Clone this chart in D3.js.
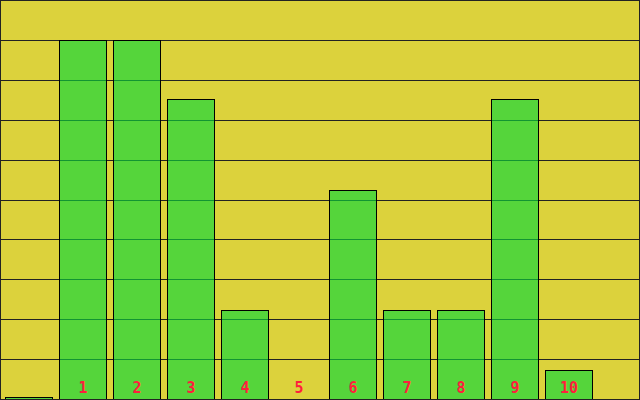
<!DOCTYPE html>
<html>
<head>
<meta charset="utf-8">
<script src="https://cdn.jsdelivr.net/npm/d3@7"></script>
<style>
  body { margin: 0; background: #fff; }
  svg { display: block; }
</style>
</head>
<body>
<svg width="640" height="400"></svg>
<script>
// bar values, one per category index
var categories = [0, 1, 2, 3, 4, 5, 6, 7, 8, 9, 10];
var values = [0.1, 12, 12, 10.03, 3, 0, 7, 3, 3, 10.03, 1];
var labels = ["", "1", "2", "3", "4", "5", "6", "7", "8", "9", "10"];
var gridTicks = [0, 1, 2, 3, 4, 5, 6, 7, 8, 9];

var svg = d3.select("svg"),
    width = +svg.attr("width"),
    height = +svg.attr("height");

// background
svg.append("rect")
    .attr("width", width)
    .attr("height", height)
    .attr("fill", "#dcd23c");

var x = d3.scaleBand()
    .domain(categories)
    .range([5, 592])
    .paddingInner(7 / 54)
    .paddingOuter(0);

var y = d3.scaleLinear()
    .domain([0, 12])
    .range([height, 40]);

// grid lines, ten bands down the plot
var gy = d3.scaleLinear().domain([0, 10]).range([0, 399]);
svg.append("g")
    .selectAll("line")
    .data(gridTicks)
    .enter()
    .append("line")
    .attr("x1", 0)
    .attr("x2", width)
    .attr("y1", function (d) { return Math.round(gy(d)) + 0.5; })
    .attr("y2", function (d) { return Math.round(gy(d)) + 0.5; })
    .attr("stroke", "#222")
    .attr("shape-rendering", "crispEdges");

// bars (a bit see-through so the grid shows)
svg.append("g")
    .selectAll("rect")
    .data(categories.filter(function (d) { return values[d] > 0; }))
    .enter()
    .append("rect")
    .attr("x", function (d) { return x(d) + 0.5; })
    .attr("y", function (d) { return Math.round(y(values[d])) + 0.5; })
    .attr("width", x.bandwidth())
    .attr("height", function (d) { return height - Math.round(y(values[d])) + 2; })
    .attr("fill", "rgb(10,214,60)")
    .attr("fill-opacity", 0.64)
    .attr("stroke", "#000")
    .attr("stroke-width", 1)
    .attr("shape-rendering", "crispEdges");

// category labels
svg.append("g")
    .selectAll("text")
    .data(categories)
    .enter()
    .append("text")
    .attr("x", function (d) { return x(d) + x.bandwidth() / 2 + 0.5; })
    .attr("y", 393)
    .attr("text-anchor", "middle")
    .attr("fill", "#ff1e3c")
    .style("font-family", "'DejaVu Sans Mono', monospace")
    .style("font-size", "15px")
    .style("font-weight", "bold")
    .text(function (d) { return labels[d]; });

// frame
svg.append("rect")
    .attr("x", 0.5)
    .attr("y", 0.5)
    .attr("width", width - 1)
    .attr("height", height - 1)
    .attr("fill", "none")
    .attr("stroke", "#222")
    .attr("shape-rendering", "crispEdges");
</script>
</body>
</html>
